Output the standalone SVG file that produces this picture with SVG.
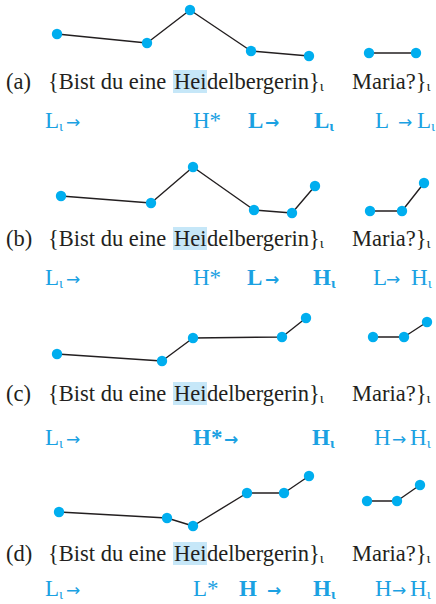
<svg xmlns="http://www.w3.org/2000/svg" width="436" height="604" viewBox="0 0 436 604">
<style>
.t{font-family:"Liberation Serif","Times New Roman",serif;font-size:22.5px;fill:#231f20}
.sub{font-size:15px}
.lb{font-family:"Liberation Serif","Times New Roman",serif;font-size:23px;fill:#1ba1e2}
.b{font-weight:bold}
.sb{font-size:15px}
.ar{font-family:"DejaVu Sans",sans-serif;font-size:17px;fill:#1ba1e2}
.hl{fill:#c6e7f8}
.ln{fill:none;stroke:#231f20;stroke-width:1.4;stroke-linejoin:round}
.dot{fill:#00aeef}
</style>
<defs><circle id="d" r="5.2" class="dot"/></defs>

<g id="highlights">
<rect class="hl" x="173" y="70" width="34" height="23"/>
<rect class="hl" x="173" y="227" width="34" height="23"/>
<rect class="hl" x="173" y="382" width="34" height="23"/>
<rect class="hl" x="173" y="542" width="34" height="23"/>
</g>

<g id="connectors">
<polyline class="ln" points="57,34 147,43 190,10 251,51 309,56"/>
<polyline class="ln" points="369,53 416,53"/>
<polyline class="ln" points="61,196 151,203 193,167 254,210 292,213 315,186"/>
<polyline class="ln" points="370,211 402,211 424,183"/>
<polyline class="ln" points="57,354 162,361 193,338 282,337 306,318"/>
<polyline class="ln" points="373,337 404,337 427,322"/>
<polyline class="ln" points="59,512 167,518 193,526 247,493 284,493 309,476"/>
<polyline class="ln" points="367,501 397,501 420,485"/>
</g>

<g id="panel-a">
<g id="a-contour">
<use href="#d" x="57" y="34"/><use href="#d" x="147" y="43"/><use href="#d" x="190" y="10"/><use href="#d" x="251" y="51"/><use href="#d" x="309" y="56"/>
<use href="#d" x="369" y="53"/><use href="#d" x="416" y="53"/>
</g>
<text class="t" x="6" y="89">(a)</text>
<text class="t" x="48" y="89">{Bist du eine <tspan x="174">Hei</tspan><tspan x="207">delbergerin}</tspan><tspan class="sub" dy="2">ι</tspan></text>
<text class="t" x="352" y="89">Maria?}<tspan class="sub" dy="2">ι</tspan></text>
<text class="lb" x="45" y="128">L<tspan class="sb" dy="3">ι</tspan></text><text class="ar" x="66" y="128">→</text>
<text class="lb" x="193" y="128">H*</text>
<text class="lb b" x="248" y="128">L</text><text class="ar b" x="265" y="128">→</text>
<text class="lb b" x="314" y="128">L<tspan class="sb" dy="3">ι</tspan></text>
<text class="lb" x="375" y="128">L</text><text class="ar" x="398" y="128">→</text>
<text class="lb" x="417" y="128">L<tspan class="sb" dy="3">ι</tspan></text>
</g>

<g id="panel-b">
<g id="b-contour">
<use href="#d" x="61" y="196"/><use href="#d" x="151" y="203"/><use href="#d" x="193" y="167"/><use href="#d" x="254" y="210"/><use href="#d" x="292" y="213"/><use href="#d" x="315" y="186"/>
<use href="#d" x="370" y="211"/><use href="#d" x="402" y="211"/><use href="#d" x="424" y="183"/>
</g>
<text class="t" x="6" y="246">(b)</text>
<text class="t" x="48" y="246">{Bist du eine <tspan x="174">Hei</tspan><tspan x="207">delbergerin}</tspan><tspan class="sub" dy="2">ι</tspan></text>
<text class="t" x="352" y="246">Maria?}<tspan class="sub" dy="2">ι</tspan></text>
<text class="lb" x="45" y="285">L<tspan class="sb" dy="3">ι</tspan></text><text class="ar" x="66" y="285">→</text>
<text class="lb" x="193" y="285">H*</text>
<text class="lb b" x="247" y="285">L</text><text class="ar b" x="265" y="285">→</text>
<text class="lb b" x="313" y="285">H<tspan class="sb" dy="3">ι</tspan></text>
<text class="lb" x="373" y="285">L</text><text class="ar" x="386" y="285">→</text>
<text class="lb" x="411" y="285">H<tspan class="sb" dy="3">ι</tspan></text>
</g>

<g id="panel-c">
<g id="c-contour">
<use href="#d" x="57" y="354"/><use href="#d" x="162" y="361"/><use href="#d" x="193" y="338"/><use href="#d" x="282" y="337"/><use href="#d" x="306" y="318"/>
<use href="#d" x="373" y="337"/><use href="#d" x="404" y="337"/><use href="#d" x="427" y="322"/>
</g>
<text class="t" x="6" y="401">(c)</text>
<text class="t" x="48" y="401">{Bist du eine <tspan x="174">Hei</tspan><tspan x="207">delbergerin}</tspan><tspan class="sub" dy="2">ι</tspan></text>
<text class="t" x="352" y="401">Maria?}<tspan class="sub" dy="2">ι</tspan></text>
<text class="lb" x="45" y="445">L<tspan class="sb" dy="3">ι</tspan></text><text class="ar" x="66" y="445">→</text>
<text class="lb b" x="193" y="445">H*</text><text class="ar b" x="224" y="445">→</text>
<text class="lb b" x="312" y="445">H<tspan class="sb" dy="3">ι</tspan></text>
<text class="lb" x="374" y="445">H</text><text class="ar" x="392" y="445">→</text>
<text class="lb" x="410" y="445">H<tspan class="sb" dy="3">ι</tspan></text>
</g>

<g id="panel-d">
<g id="d-contour">
<use href="#d" x="59" y="512"/><use href="#d" x="167" y="518"/><use href="#d" x="193" y="526"/><use href="#d" x="247" y="493"/><use href="#d" x="284" y="493"/><use href="#d" x="309" y="476"/>
<use href="#d" x="367" y="501"/><use href="#d" x="397" y="501"/><use href="#d" x="420" y="485"/>
</g>
<text class="t" x="6" y="561">(d)</text>
<text class="t" x="48" y="561">{Bist du eine <tspan x="174">Hei</tspan><tspan x="207">delbergerin}</tspan><tspan class="sub" dy="2">ι</tspan></text>
<text class="t" x="352" y="561">Maria?}<tspan class="sub" dy="2">ι</tspan></text>
<text class="lb" x="45" y="596">L<tspan class="sb" dy="3">ι</tspan></text><text class="ar" x="66" y="596">→</text>
<text class="lb" x="193" y="596">L*</text>
<text class="lb b" x="239" y="596">H</text><text class="ar b" x="267" y="596">→</text>
<text class="lb b" x="313" y="596">H<tspan class="sb" dy="3">ι</tspan></text>
<text class="lb" x="375" y="596">H</text><text class="ar" x="392" y="596">→</text>
<text class="lb" x="410" y="596">H<tspan class="sb" dy="3">ι</tspan></text>
</g>
</svg>
